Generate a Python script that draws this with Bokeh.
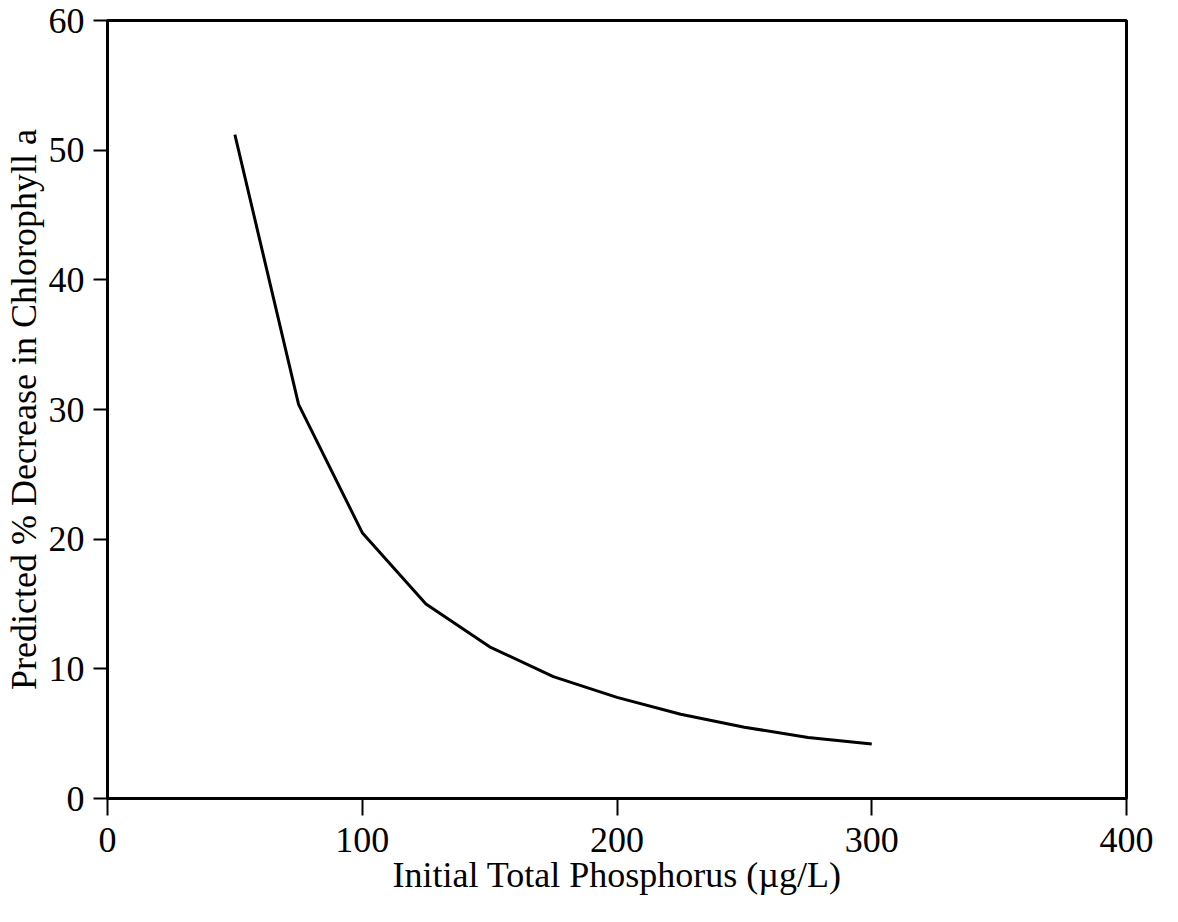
from bokeh.plotting import figure
from bokeh.embed import file_html
from bokeh.resources import INLINE
from bokeh.models import Range1d, FixedTicker

# Data
tp_initial = [50, 75, 100, 125, 150, 175, 200, 225, 250, 275, 300]
chl_decrease = [51.2, 30.4, 20.5, 15.0, 11.7, 9.4, 7.8, 6.5, 5.5, 4.7, 4.2]
x_ticks = [0, 100, 200, 300, 400]
y_ticks = [0, 10, 20, 30, 40, 50, 60]

FONT = "Liberation Serif"

p = figure(width=1160, height=912, output_backend="svg", toolbar_location=None,
           x_range=Range1d(0, 400), y_range=Range1d(0, 60),
           min_border_left=102, min_border_right=34, min_border_top=20, min_border_bottom=114)

p.line(tp_initial, chl_decrease, line_color="black", line_width=3)

p.grid.visible = False
p.outline_line_color = "black"
p.outline_line_width = 3
p.background_fill_color = "white"
p.border_fill_color = "white"

for ax in (p.xaxis[0], p.yaxis[0]):
    ax.axis_line_color = "black"
    ax.axis_line_width = 3
    ax.major_tick_line_color = "black"
    ax.major_tick_line_width = 2
    ax.major_tick_in = 0
    ax.minor_tick_line_color = None
    ax.major_label_text_font = FONT
    ax.major_label_text_font_size = "36px"
    ax.major_label_text_color = "black"
    ax.axis_label_text_font = FONT
    ax.axis_label_text_font_size = "36px"
    ax.axis_label_text_font_style = "normal"
    ax.axis_label_text_color = "black"

p.xaxis.ticker = FixedTicker(ticks=x_ticks)
p.yaxis.ticker = FixedTicker(ticks=y_ticks)
p.xaxis.major_tick_out = 17
p.yaxis.major_tick_out = 14
p.xaxis.major_label_standoff = 12
p.yaxis.major_label_standoff = 9
p.xaxis.axis_label = "Initial Total Phosphorus (\u00b5g/L)"
p.yaxis.axis_label = "Predicted % Decrease in Chlorophyll a"
p.xaxis.axis_label_standoff = 0
p.yaxis.axis_label_standoff = 2

open("out.html", "w").write(file_html(p, INLINE))
